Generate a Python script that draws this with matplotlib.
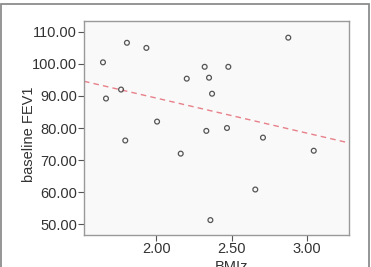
import matplotlib.pyplot as plt
import numpy as np
from matplotlib.patches import Rectangle

plt.rcParams['font.family'] = ['Liberation Sans', 'DejaVu Sans']

# BMI z-score vs baseline FEV1
bmiz = [1.646, 1.666, 1.766, 1.794, 1.805, 1.934, 2.005, 2.162, 2.202, 2.321,
        2.332, 2.350, 2.370, 2.359, 2.469, 2.478, 2.657, 2.708, 2.876, 3.045]
fev1 = [100.5, 89.2, 92.0, 76.1, 106.6, 105.0, 82.0, 72.0, 95.4, 99.1,
        79.1, 95.7, 90.7, 51.25, 80.0, 99.1, 60.8, 77.0, 108.2, 72.9]
xticks = [2.0, 2.5, 3.0]
yticks = [50, 60, 70, 80, 90, 100, 110]

fig = plt.figure(figsize=(3.71, 2.67), dpi=100)
ax = fig.add_axes([84 / 371, 1 - 235 / 267, 265 / 371, 214 / 267])
ax.set_facecolor('#f9f9f9')

ax.scatter(bmiz, fev1, s=12, facecolors='none', edgecolors='#555555',
           linewidths=0.9, zorder=3)

# linear fit over the whole axis range
xlim = (1.52, 3.279)
slope, icpt = np.polyfit(bmiz, fev1, 1)
xs = np.array(xlim)
ax.plot(xs, icpt + slope * xs, color='#e8808a', lw=1.0, dashes=(4, 3), zorder=2)

ax.set_xlim(*xlim)
ax.set_ylim(46.6, 113.4)
ax.set_xticks(xticks)
ax.set_yticks(yticks)
ax.set_xticklabels(['%.2f' % v for v in xticks])
ax.set_yticklabels(['%.2f' % v for v in yticks])
ax.tick_params(direction='out', length=4, width=0.8, color='#555555',
               labelcolor='#333333', labelsize=10.5, pad=1)
for sp in ax.spines.values():
    sp.set_color('#999999')
    sp.set_linewidth(1.0)

ax.set_xlabel('BMIz', fontsize=10.5, color='#333333')
ax.set_ylabel('baseline FEV1', fontsize=10.5, color='#333333')
ax.xaxis.set_label_coords(0.558, -0.117)
ax.yaxis.set_label_coords(-0.183, 0.472)

# outer frame around the whole chart
fig.patches.append(Rectangle((0.5 / 371, -0.1), 368.5 / 371, 1.1 - 4.3 / 267,
                             transform=fig.transFigure, fill=False,
                             edgecolor='#8c8c8c', lw=1.3))

fig.savefig('out.png', dpi=100)
